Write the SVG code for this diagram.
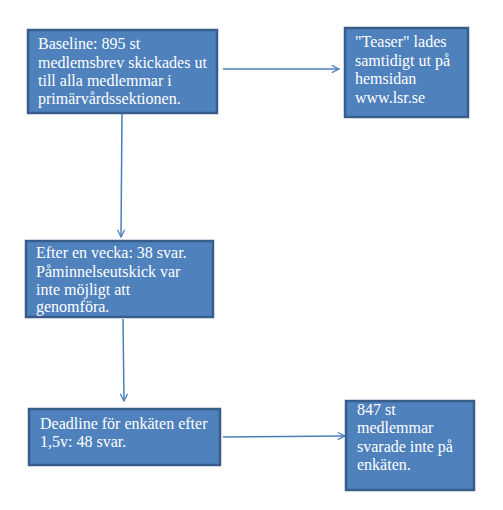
<svg xmlns="http://www.w3.org/2000/svg" width="503" height="510" viewBox="0 0 503 510">
<defs>
<style>
.box{fill:#4F81BD;stroke:#385D8A;stroke-width:2.5}
.t{font-family:"Liberation Serif","Times New Roman",serif;font-size:16px;fill:#FFFFFF}
.c{stroke:#4A7EBB;stroke-width:1.5;fill:none;marker-end:url(#a)}
</style>
<marker id="a" viewBox="0 0 10 10" refX="9" refY="5" markerWidth="9" markerHeight="9" markerUnits="userSpaceOnUse" orient="auto">
<path d="M1,1 L9,5 L1,9" fill="none" stroke="#4A7EBB" stroke-width="1.4"/>
</marker>
</defs>
<rect width="503" height="510" fill="#FFFFFF"/>
<g id="connectors">
<line class="c" x1="223" y1="69" x2="339" y2="69"/>
<line class="c" x1="122" y1="114" x2="121" y2="237"/>
<line class="c" x1="123" y1="319" x2="124" y2="401"/>
<line class="c" x1="223" y1="437" x2="345" y2="436"/>
</g>
<g id="n1">
<rect class="box" x="28" y="30" width="189" height="83"/>
<text class="t" x="38" y="49">Baseline: 895 st</text>
<text class="t" x="38" y="68">medlemsbrev skickades ut</text>
<text class="t" x="38" y="86">till alla medlemmar i</text>
<text class="t" x="38" y="104">primärvårdssektionen.</text>
</g>
<g id="n2">
<rect class="box" x="345" y="28" width="123" height="89"/>
<text class="t" x="355" y="47">"Teaser" lades</text>
<text class="t" x="355" y="66">samtidigt ut på</text>
<text class="t" x="355" y="84">hemsidan</text>
<text class="t" x="355" y="103">www.lsr.se</text>
</g>
<g id="n3">
<rect class="box" x="26" y="241" width="187" height="76"/>
<text class="t" x="36" y="258">Efter en vecka: 38 svar.</text>
<text class="t" x="36" y="277">Påminnelseutskick var</text>
<text class="t" x="36" y="295">inte möjligt att</text>
<text class="t" x="36" y="312">genomföra.</text>
</g>
<g id="n4">
<rect class="box" x="29" y="409" width="191" height="56"/>
<text class="t" x="40" y="429">Deadline för enkäten efter</text>
<text class="t" x="40" y="447">1,5v: 48 svar.</text>
</g>
<g id="n5">
<rect class="box" x="346" y="401" width="128" height="89"/>
<text class="t" x="357" y="415">847 st</text>
<text class="t" x="357" y="433">medlemmar</text>
<text class="t" x="357" y="452">svarade inte på</text>
<text class="t" x="357" y="470">enkäten.</text>
</g>
</svg>
